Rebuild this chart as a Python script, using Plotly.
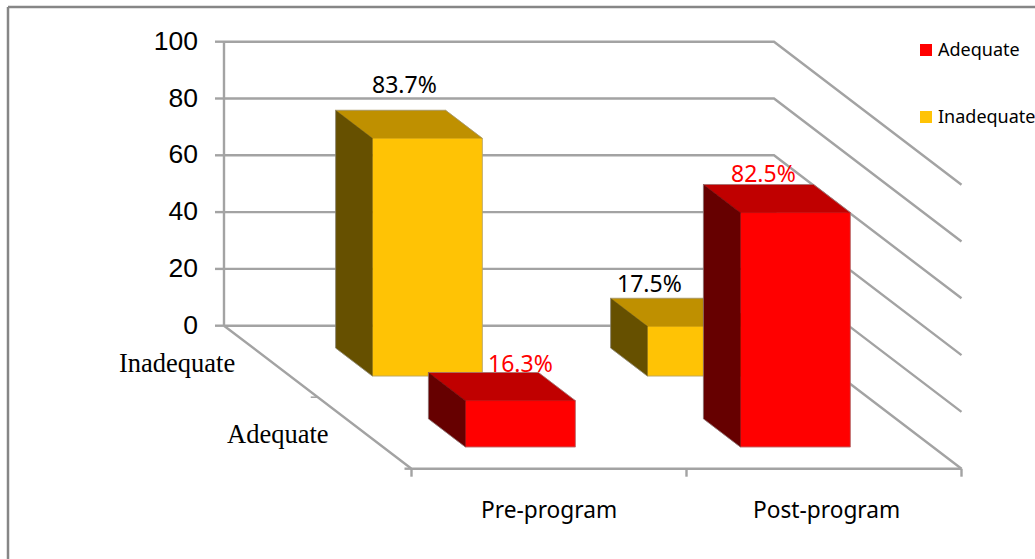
import plotly.graph_objects as go

# Chart data
categories = ["Pre-program", "Post-program"]
series_names = ["Inadequate", "Adequate"]
inadequate = [83.7, 17.5]
adequate = [16.3, 82.5]
value_ticks = [0, 20, 40, 60, 80, 100]

# Oblique projection of (category, depth, value) onto the page
ORIGIN_X, ORIGIN_Y = 224.0, 325.7
CAT_W = 275.0
DEPTH_DX, DEPTH_DY = 187.5, 143.0
UNIT_H = 2.84

BAR_START, BAR_W = 0.2995, 0.40
ROW_SPANS = {"Inadequate": (0.156, 0.352), "Adequate": (0.651, 0.848)}

GRID = "#a3a3a3"
SANS = "Noto Sans, sans-serif"
ARIAL = "Liberation Sans, Arial, sans-serif"
SERIF = "Liberation Serif, Times New Roman, serif"

PALETTE = {
    "Inadequate": {"front": "#FFC305", "top": "#BF9000", "side": "#665000", "text": "#000000"},
    "Adequate": {"front": "#FF0000", "top": "#C00000", "side": "#660000", "text": "#FF0000"},
}


def project(cat, depth, value=0.0):
    return (ORIGIN_X + cat * CAT_W + depth * DEPTH_DX,
            ORIGIN_Y + depth * DEPTH_DY - value * UNIT_H)


fig = go.Figure()


def polyline(points, color=GRID, width=2.4):
    xs, ys = zip(*points)
    fig.add_trace(go.Scatter(
        x=list(xs), y=list(ys), mode="lines",
        line=dict(color=color, width=width),
        hoverinfo="skip", showlegend=False,
    ))


def face(points, color):
    xs, ys = zip(*points)
    fig.add_trace(go.Scatter(
        x=list(xs) + [xs[0]], y=list(ys) + [ys[0]], mode="lines",
        line=dict(color=color, width=0.5),
        fill="toself", fillcolor=color, hoverinfo="skip", showlegend=False,
    ))


# Walls: gridlines run along the back and then down the right side
n_cats = len(categories)
for v in value_ticks:
    polyline([project(0, 0, v), project(n_cats, 0, v), project(n_cats, 1, v)])
polyline([project(0, 0, 0), project(0, 0, value_ticks[-1])])

# Floor edges and tick marks
polyline([project(0, 0), project(0, 1), project(n_cats, 1)])
for v in value_ticks:
    x, y = project(0, 0, v)
    polyline([(x - 9, y), (x, y)])
x, y = project(0, 0.5)
polyline([(x - 7, y), (x, y)], width=1.5)
x, y = project(0, 1)
polyline([(x - 7, y), (x, y)])
for c in range(n_cats + 1):
    x, y = project(c, 1)
    polyline([(x, y), (x, y + 8)])


def bar(cat_index, series, value):
    c0 = cat_index + BAR_START
    c1 = c0 + BAR_W
    d0, d1 = ROW_SPANS[series]
    col = PALETTE[series]
    face([project(c0, d1, 0), project(c1, d1, 0), project(c1, d1, value), project(c0, d1, value)], col["front"])
    face([project(c0, d0, value), project(c1, d0, value), project(c1, d1, value), project(c0, d1, value)], col["top"])
    face([project(c0, d0, 0), project(c0, d1, 0), project(c0, d1, value), project(c0, d0, value)], col["side"])
    # Thin outline around the visible silhouette
    polyline([
        project(c0, d0, 0), project(c0, d1, 0), project(c1, d1, 0), project(c1, d1, value),
        project(c1, d0, value), project(c0, d0, value), project(c0, d0, 0),
    ], color="rgba(150,150,150,0.6)", width=1)


# Back row first so the front row overlaps it
for i, v in enumerate(inadequate):
    bar(i, "Inadequate", v)
for i, v in enumerate(adequate):
    bar(i, "Adequate", v)

# Value axis labels
label_xy = [project(0, 0, v) for v in value_ticks]
fig.add_trace(go.Scatter(
    x=[p[0] - 26 for p in label_xy], y=[p[1] + 1.5 for p in label_xy],
    mode="text", text=[str(v) for v in value_ticks], textposition="middle left",
    textfont=dict(family=ARIAL, size=26.5, color="#000000"),
    hoverinfo="skip", showlegend=False,
))

# Legend swatches and entries
legend_x = 926
legend_y = {"Adequate": 50, "Inadequate": 117}
for name in ["Adequate", "Inadequate"]:
    fig.add_trace(go.Scatter(
        x=[legend_x], y=[legend_y[name]], mode="markers",
        marker=dict(symbol="square", size=12, color=PALETTE[name]["front"]),
        hoverinfo="skip", showlegend=False,
    ))

annotations = []


def note(x, y, text, family, size, color="#000000", xanchor="center"):
    annotations.append(dict(
        x=x, y=y, text=text, xref="x", yref="y", showarrow=False,
        xanchor=xanchor, yanchor="middle", borderpad=0,
        font=dict(family=family, size=size, color=color),
    ))


for name in ["Adequate", "Inadequate"]:
    note(legend_x + 11, legend_y[name] - 1.5, name, SANS, 18, xanchor="left")

# Value labels placed by hand around the bars
value_label_pos = {
    ("Inadequate", 0): (404, 84),
    ("Inadequate", 1): (649, 283),
    ("Adequate", 0): (520, 363),
    ("Adequate", 1): (763.5, 173),
}
for series, values in (("Inadequate", inadequate), ("Adequate", adequate)):
    for i, v in enumerate(values):
        px, py = value_label_pos[(series, i)]
        note(px, py, f"{v}%", SANS, 23, PALETTE[series]["text"])

# Category and depth axis labels, centred under each floor section
category_label_shift = [0.5, 3]
for i, name in enumerate(categories):
    x, y = project(i + 0.5, 1)
    note(x + category_label_shift[i] - 0.5, y + 41, name, SANS, 22.7)
note(177, 363, series_names[0], SERIF, 26.5)
note(278, 434, series_names[1], SERIF, 26.5)

fig.update_layout(
    width=1035, height=559,
    margin=dict(l=0, r=0, t=0, b=0),
    paper_bgcolor="#ffffff", plot_bgcolor="#ffffff",
    showlegend=False,
    xaxis=dict(range=[0, 1035], visible=False, fixedrange=True),
    yaxis=dict(range=[559, 0], visible=False, fixedrange=True),
    annotations=annotations,
    shapes=[
        # Outer chart frame: left and top edges only
        dict(type="line", xref="x", yref="y", x0=8, y0=7, x1=8, y1=559, line=dict(color="#868686", width=2.5)),
        dict(type="line", xref="x", yref="y", x0=8, y0=7, x1=1035, y1=7, line=dict(color="#868686", width=2.5)),
    ],
)

fig.write_html("out.html", config={"displayModeBar": False})
